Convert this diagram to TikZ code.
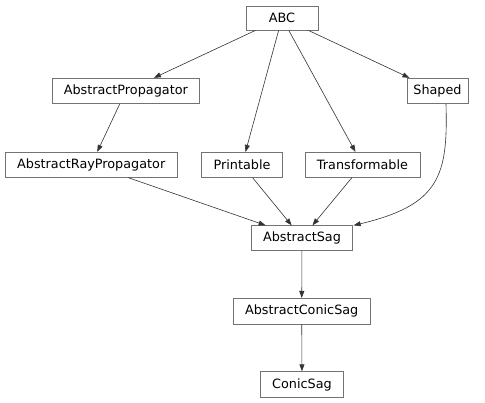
\documentclass[tikz,border=0pt]{standalone}
\usepackage{fontspec}
\setmainfont{DejaVu Sans}
\usetikzlibrary{arrows.meta}
\begin{document}
\begin{tikzpicture}[x=1pt,y=-1pt,
  cls/.style={draw=black!55,line width=0.8pt,fill=white,inner sep=0pt,
    font=\fontsize{12.8}{14}\selectfont,anchor=center},
  edge/.style={draw=black!80,line width=0.6pt,-{Triangle[length=7pt,width=5pt]}}]
\useasboundingbox (0,0) rectangle (485,403);
\node[cls,minimum width=72pt,minimum height=24pt] (abc) at (282,18) {ABC};
\node[cls,minimum width=147pt,minimum height=25.5pt] (ap) at (125.8,91) {AbstractPropagator};
\node[cls,minimum width=61pt,minimum height=25.5pt] (shaped) at (437.5,91) {Shaped};
\node[cls,minimum width=172pt,minimum height=25pt] (arp) at (91.2,164.8) {AbstractRayPropagator};
\node[cls,minimum width=81pt,minimum height=25pt] (printable) at (242,164.8) {Printable};
\node[cls,minimum width=115pt,minimum height=25pt] (transformable) at (362.5,164.8) {Transformable};
\node[cls,minimum width=100.5pt,minimum height=24.5pt] (asag) at (302,238) {AbstractSag};
\node[cls,minimum width=136.7pt,minimum height=25.7pt] (acsag) at (301.7,311.2) {AbstractConicSag};
\node[cls,minimum width=83pt,minimum height=25.6pt] (csag) at (302,384.5) {ConicSag};
\draw[edge] (abc) -- (ap);
\draw[edge] (abc) -- (printable);
\draw[edge] (abc) -- (transformable);
\draw[edge] (abc) -- (shaped);
\draw[edge] (ap) -- (arp);
\draw[edge] (arp) -- (asag);
\draw[edge] (printable) -- (asag);
\draw[edge] (transformable) -- (asag);
\draw[edge] ([xshift=8.5pt]shaped.south) .. controls +(2,71) and (440,205) .. ([xshift=1pt]asag.north east);
\draw[edge] (asag) -- (acsag);
\draw[edge] (acsag) -- (csag);
\end{tikzpicture}
\end{document}
